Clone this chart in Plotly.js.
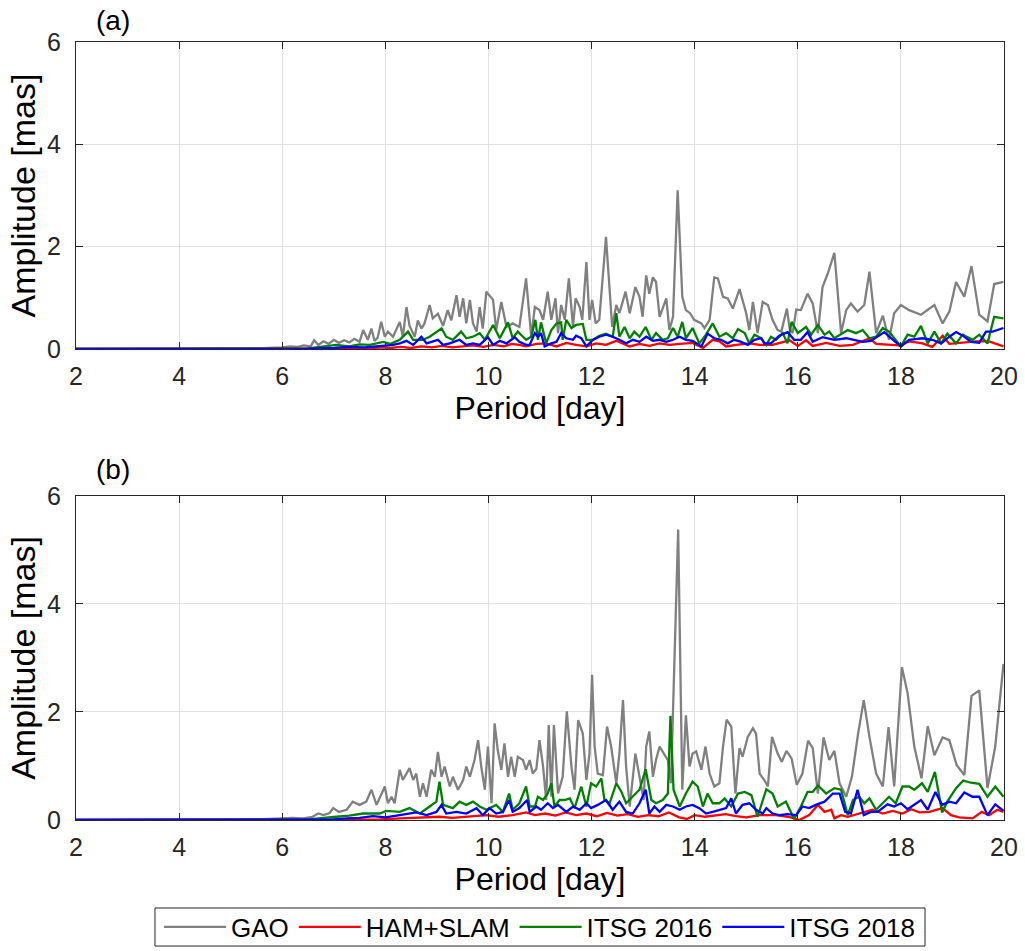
<!DOCTYPE html>
<html>
<head>
<meta charset="utf-8">
<script src="https://cdn.plot.ly/plotly-3.0.1.min.js"></script>
<style>html,body{margin:0;padding:0;background:#fff;}#chart{width:1025px;height:951px;}</style>
</head>
<body>
<div id="chart"></div>
<script>
// ---------- Panel (a) ----------
const gaoA_period = [2,3,4,5,5.5,6.0,6.15,6.3,6.42,6.55,6.62,6.7,6.8,6.9,7.0,7.1,7.2,7.3,7.4,7.5,7.57,7.66,7.73,7.79,7.85,7.92,7.99,8.05,8.15,8.28,8.34,8.41,8.47,8.57,8.63,8.70,8.76,8.86,8.92,9.02,9.12,9.21,9.28,9.38,9.44,9.51,9.57,9.64,9.70,9.77,9.83,9.89,9.96,10.09,10.15,10.25,10.35,10.47,10.60,10.73,10.83,10.90,10.99,11.06,11.15,11.22,11.30,11.35,11.41,11.48,11.56,11.64,11.69,11.77,11.82,11.90,11.96,12.01,12.08,12.15,12.28,12.40,12.48,12.54,12.66,12.74,12.85,12.93,12.99,13.06,13.12,13.19,13.25,13.32,13.45,13.51,13.58,13.67,13.76,13.83,13.91,13.99,14.13,14.19,14.29,14.38,14.45,14.55,14.64,14.74,14.87,15.00,15.06,15.13,15.22,15.32,15.42,15.51,15.61,15.68,15.79,15.84,15.90,15.97,16.06,16.19,16.29,16.39,16.48,16.58,16.71,16.84,16.94,17.03,17.16,17.29,17.39,17.52,17.65,17.77,17.87,18.00,18.16,18.39,18.65,18.81,18.94,19.07,19.23,19.37,19.52,19.68,19.81,19.99];
const gaoA_amp = [0,0,0,0.005,0.01,0.03,0.05,0.04,0.07,0.05,0.17,0.08,0.15,0.1,0.18,0.12,0.17,0.13,0.2,0.14,0.37,0.18,0.40,0.16,0.22,0.53,0.24,0.34,0.24,0.53,0.24,0.82,0.45,0.24,0.56,0.40,0.50,0.86,0.60,0.69,0.45,0.76,0.56,1.05,0.63,0.99,0.50,0.96,0.50,0.34,0.82,0.40,1.12,0.96,0.37,0.92,0.43,0.50,0.43,1.38,0.24,0.82,0.76,0.57,1.12,0.57,0.99,0.31,0.86,0.57,1.38,0.43,0.99,0.82,0.57,1.70,0.57,0.96,0.50,0.57,2.19,0.43,0.86,0.70,1.12,0.70,1.21,1.02,0.63,1.44,1.08,1.40,1.31,0.63,0.99,0.37,0.63,3.10,1.02,0.76,0.70,0.57,0.50,0.41,0.57,1.40,1.38,1.02,0.99,0.79,1.17,0.70,0.37,0.92,0.31,0.92,0.86,0.57,0.37,0.34,0.79,0.41,0.31,0.77,0.76,1.08,0.89,0.31,1.21,1.47,1.88,0.31,0.76,0.89,0.73,0.86,1.51,0.31,0.65,0.18,0.70,0.86,0.76,0.67,0.86,0.50,0.73,1.31,1.02,1.62,0.67,0.54,1.27,1.31];

const hamA_period = [2,6,6.5,7.0,7.3,7.6,7.9,8.1,8.3,8.5,8.7,8.9,9.1,9.3,9.5,9.7,9.9,10.1,10.3,10.45,10.60,10.73,10.93,11.12,11.32,11.51,11.70,11.90,12.09,12.28,12.48,12.61,12.74,12.93,13.12,13.32,13.51,13.71,13.96,14.16,14.35,14.48,14.61,14.80,15.06,15.26,15.51,15.84,16.00,16.16,16.29,16.55,16.81,17.07,17.39,17.52,17.71,17.97,18.16,18.42,18.61,18.81,18.94,19.20,19.46,19.71,19.99];
const hamA_amp = [0,0,0.005,0.01,0.02,0.01,0.03,0.02,0.04,0.02,0.05,0.03,0.06,0.03,0.05,0.07,0.04,0.08,0.05,0.10,0.08,0.05,0.10,0.11,0.05,0.12,0.08,0.05,0.11,0.08,0.16,0.11,0.05,0.10,0.06,0.11,0.08,0.10,0.12,0.02,0.18,0.15,0.05,0.08,0.11,0.08,0.08,0.17,0.06,0.17,0.06,0.12,0.06,0.08,0.21,0.10,0.09,0.07,0.15,0.11,0.04,0.26,0.10,0.12,0.15,0.15,0.05];

const itsg16A_period = [2,6,6.5,7.05,7.3,7.5,7.70,7.96,8.1,8.28,8.44,8.54,8.73,8.86,9.09,9.18,9.31,9.47,9.57,9.70,9.83,9.93,10.09,10.22,10.38,10.47,10.57,10.65,10.73,10.83,10.91,10.96,11.02,11.12,11.22,11.32,11.41,11.44,11.51,11.61,11.70,11.83,11.90,12.03,12.15,12.28,12.41,12.48,12.54,12.64,12.74,12.83,12.93,13.05,13.16,13.25,13.38,13.48,13.58,13.67,13.76,13.83,13.96,14.09,14.22,14.35,14.48,14.61,14.74,14.84,14.97,15.06,15.16,15.29,15.39,15.48,15.58,15.71,15.80,15.88,16.00,16.16,16.26,16.39,16.52,16.61,16.71,16.97,17.13,17.26,17.39,17.52,17.65,17.77,17.90,18.00,18.13,18.26,18.39,18.52,18.65,18.78,18.90,19.07,19.20,19.39,19.52,19.68,19.81,19.99];
const itsg16A_amp = [0,0,0.01,0.08,0.05,0.09,0.08,0.14,0.10,0.18,0.34,0.18,0.18,0.24,0.40,0.24,0.18,0.34,0.21,0.24,0.31,0.18,0.47,0.21,0.52,0.21,0.34,0.26,0.18,0.24,0.57,0.18,0.52,0.11,0.37,0.50,0.52,0.18,0.57,0.41,0.47,0.49,0.18,0.18,0.26,0.30,0.24,0.70,0.24,0.43,0.21,0.34,0.24,0.43,0.18,0.31,0.18,0.21,0.41,0.24,0.53,0.21,0.41,0.11,0.28,0.50,0.24,0.31,0.21,0.39,0.31,0.11,0.28,0.21,0.08,0.24,0.18,0.31,0.11,0.53,0.31,0.43,0.28,0.47,0.28,0.34,0.21,0.37,0.31,0.37,0.21,0.24,0.41,0.34,0.18,0.05,0.28,0.24,0.45,0.11,0.34,0.11,0.30,0.11,0.28,0.18,0.28,0.11,0.63,0.60];

const itsg18A_period = [2,6,6.5,7.0,7.25,7.6,7.89,8.15,8.28,8.41,8.54,8.70,8.80,8.92,9.02,9.12,9.25,9.44,9.57,9.70,9.83,9.99,10.09,10.22,10.35,10.51,10.60,10.73,10.80,10.90,10.96,11.02,11.09,11.22,11.32,11.41,11.51,11.64,11.70,11.80,11.90,12.03,12.15,12.28,12.41,12.54,12.67,12.80,12.93,13.06,13.19,13.32,13.45,13.58,13.71,13.83,13.96,14.13,14.25,14.38,14.51,14.64,14.77,14.90,15.03,15.16,15.29,15.35,15.48,15.64,15.80,15.93,16.06,16.19,16.29,16.48,16.71,16.94,17.10,17.26,17.42,17.55,17.68,17.81,18.00,18.16,18.42,18.61,18.78,18.94,19.07,19.20,19.36,19.52,19.65,19.78,19.99];
const itsg18A_amp = [0,0,0.005,0.02,0.04,0.03,0.05,0.08,0.11,0.16,0.08,0.24,0.11,0.14,0.18,0.08,0.11,0.18,0.08,0.11,0.08,0.23,0.08,0.16,0.11,0.23,0.14,0.08,0.08,0.31,0.24,0.31,0.05,0.11,0.14,0.31,0.21,0.18,0.26,0.21,0.05,0.18,0.24,0.28,0.24,0.18,0.11,0.18,0.14,0.24,0.16,0.18,0.14,0.18,0.24,0.18,0.16,0.05,0.30,0.21,0.18,0.11,0.18,0.14,0.08,0.18,0.21,0.11,0.11,0.26,0.33,0.18,0.18,0.33,0.14,0.23,0.18,0.21,0.18,0.14,0.16,0.24,0.33,0.21,0.05,0.18,0.21,0.18,0.11,0.24,0.33,0.26,0.14,0.12,0.34,0.34,0.41];

// ---------- Panel (b) ----------
const gaoB_period = [2,3,4,5,5.5,6.0,6.2,6.4,6.59,6.7,6.8,6.92,6.99,7.1,7.25,7.37,7.50,7.63,7.73,7.83,7.92,7.99,8.05,8.12,8.18,8.28,8.34,8.41,8.47,8.54,8.60,8.67,8.73,8.80,8.89,8.96,9.02,9.09,9.15,9.25,9.31,9.41,9.51,9.57,9.64,9.73,9.80,9.86,9.93,9.99,10.06,10.12,10.18,10.25,10.31,10.38,10.44,10.51,10.57,10.67,10.73,10.80,10.86,10.93,10.99,11.06,11.12,11.17,11.22,11.27,11.35,11.44,11.52,11.61,11.67,11.74,11.83,11.90,11.96,12.01,12.06,12.12,12.22,12.30,12.38,12.48,12.54,12.61,12.67,12.74,12.85,12.93,13.01,13.06,13.12,13.19,13.25,13.32,13.41,13.48,13.54,13.68,13.76,13.83,13.90,13.96,14.03,14.13,14.21,14.29,14.38,14.48,14.55,14.62,14.71,14.79,14.87,14.93,15.03,15.13,15.19,15.26,15.35,15.42,15.50,15.61,15.69,15.78,15.88,15.98,16.09,16.20,16.29,16.39,16.50,16.61,16.71,16.81,16.94,17.05,17.17,17.28,17.39,17.52,17.65,17.76,17.87,18.02,18.13,18.26,18.40,18.52,18.65,18.81,18.94,19.08,19.23,19.37,19.52,19.68,19.83,19.99];
const gaoB_amp = [0,0,0,0.005,0.01,0.03,0.04,0.03,0.06,0.12,0.09,0.13,0.22,0.15,0.19,0.34,0.28,0.34,0.56,0.28,0.49,0.62,0.31,0.43,0.31,0.93,0.74,0.86,0.96,0.74,0.86,0.43,0.68,0.43,0.93,0.80,1.26,0.80,0.99,0.62,0.80,0.56,0.74,0.99,0.80,1.11,1.48,0.99,0.56,1.36,0.31,1.79,1.30,0.93,1.42,0.80,1.17,0.80,1.17,1.11,0.93,1.11,0.86,0.95,1.48,0.99,0.37,1.76,0.43,1.76,0.49,0.80,2.01,0.99,0.56,1.85,1.60,0.74,1.23,2.69,1.36,0.86,0.83,1.73,1.36,0.68,1.23,2.22,0.99,0.25,1.23,0.80,0.37,1.36,1.64,0.80,1.11,1.36,1.23,1.11,0.68,5.38,0.56,1.94,0.99,1.23,1.27,0.93,1.36,0.86,0.62,0.68,1.36,1.86,1.73,0.49,1.33,1.17,1.54,1.70,1.60,0.86,0.74,0.62,1.54,1.23,1.08,1.28,1.14,0.65,0.86,1.47,1.33,0.49,1.53,1.11,1.28,0.68,0.43,0.80,1.60,2.22,1.54,0.86,0.62,1.72,0.62,2.83,2.35,1.36,0.77,1.74,1.20,1.53,1.48,1.02,0.83,2.30,2.40,0.59,1.36,2.89];

const hamB_period = [2,6,7.0,7.5,7.89,8.3,8.67,9.05,9.3,9.57,9.96,10.2,10.47,10.73,10.9,11.1,11.3,11.5,11.7,11.9,12.1,12.3,12.5,12.7,12.9,13.1,13.3,13.5,13.7,13.85,14.0,14.2,14.4,14.6,14.8,15.0,15.26,15.58,15.87,16.03,16.22,16.39,16.52,16.65,16.71,16.84,16.97,17.19,17.45,17.65,17.84,18.03,18.20,18.36,18.55,18.81,18.97,19.13,19.39,19.57,19.71,19.87,19.99];
const hamB_amp = [0,0,0.005,0.01,0.01,0.03,0.05,0.06,0.04,0.06,0.09,0.06,0.09,0.14,0.09,0.12,0.08,0.14,0.09,0.12,0.07,0.13,0.08,0.11,0.06,0.09,0.07,0.14,0.05,0.02,0.09,0.06,0.08,0.11,0.07,0.05,0.09,0.09,0.05,0.0,0.09,0.28,0.15,0.19,0.03,0.09,0.06,0.12,0.19,0.12,0.17,0.12,0.20,0.14,0.15,0.22,0.09,0.05,0.03,0.15,0.09,0.19,0.15];

const itsg16B_period = [2,6,6.5,7.05,7.3,7.57,7.89,8.02,8.28,8.47,8.67,8.86,8.99,9.05,9.12,9.31,9.44,9.57,9.70,9.83,9.96,10.15,10.28,10.40,10.47,10.60,10.73,10.80,10.90,10.96,11.06,11.15,11.22,11.28,11.38,11.48,11.58,11.67,11.80,11.90,11.99,12.09,12.19,12.25,12.35,12.48,12.58,12.67,12.80,12.93,13.05,13.16,13.25,13.38,13.48,13.53,13.59,13.71,13.83,13.96,14.06,14.16,14.25,14.35,14.48,14.58,14.71,14.84,14.97,15.10,15.22,15.39,15.51,15.61,15.77,15.87,15.93,16.06,16.19,16.29,16.39,16.55,16.71,16.84,16.97,17.07,17.19,17.29,17.39,17.52,17.65,17.77,17.90,18.03,18.16,18.26,18.41,18.52,18.66,18.80,18.90,19.07,19.21,19.36,19.52,19.68,19.83,19.99];
const itsg16B_amp = [0,0,0.01,0.06,0.08,0.12,0.12,0.17,0.15,0.22,0.12,0.25,0.34,0.71,0.28,0.22,0.34,0.28,0.34,0.25,0.19,0.28,0.15,0.49,0.19,0.31,0.62,0.25,0.25,0.43,0.37,0.49,0.68,0.25,0.37,0.37,0.40,0.22,0.62,0.25,0.68,0.62,0.77,0.37,0.31,0.68,0.52,0.31,0.43,0.56,0.94,0.37,0.31,0.37,0.49,1.93,0.56,0.25,0.49,0.71,0.62,0.25,0.49,0.31,0.31,0.40,0.25,0.49,0.52,0.46,0.06,0.57,0.49,0.25,0.34,0.12,0.02,0.25,0.52,0.52,0.64,0.49,0.59,0.56,0.09,0.37,0.43,0.31,0.40,0.19,0.31,0.43,0.31,0.62,0.62,0.56,0.68,0.52,0.89,0.14,0.34,0.59,0.73,0.69,0.67,0.43,0.62,0.43];

const itsg18B_period = [2,6,6.5,7.0,7.25,7.5,7.76,8.0,8.28,8.60,8.80,8.99,9.09,9.18,9.38,9.57,9.77,9.89,10.02,10.15,10.28,10.40,10.47,10.60,10.75,10.80,10.93,11.02,11.15,11.25,11.35,11.51,11.64,11.77,11.90,11.99,12.12,12.28,12.41,12.54,12.67,12.80,12.93,13.05,13.12,13.22,13.32,13.45,13.58,13.71,13.83,13.96,14.09,14.22,14.35,14.48,14.61,14.71,14.80,14.93,15.06,15.19,15.32,15.39,15.51,15.64,15.80,15.97,16.09,16.22,16.35,16.52,16.68,16.81,16.92,17.03,17.16,17.28,17.42,17.55,17.74,17.87,18.00,18.13,18.39,18.52,18.67,18.80,18.94,19.07,19.23,19.39,19.52,19.68,19.83,19.99];
const itsg18B_amp = [0,0,0.005,0.01,0.03,0.04,0.07,0.05,0.09,0.14,0.09,0.15,0.28,0.12,0.15,0.12,0.22,0.09,0.22,0.12,0.15,0.37,0.15,0.22,0.37,0.15,0.25,0.19,0.31,0.22,0.28,0.15,0.25,0.19,0.31,0.22,0.28,0.37,0.19,0.34,0.15,0.12,0.31,0.56,0.12,0.25,0.15,0.28,0.25,0.19,0.25,0.28,0.22,0.12,0.15,0.19,0.22,0.40,0.12,0.28,0.31,0.19,0.12,0.22,0.12,0.09,0.11,0.09,0.25,0.22,0.28,0.34,0.49,0.49,0.15,0.12,0.56,0.09,0.15,0.15,0.29,0.25,0.31,0.20,0.37,0.19,0.52,0.28,0.34,0.31,0.51,0.43,0.43,0.09,0.29,0.17];

const seriesNames = ["GAO", "HAM+SLAM", "ITSG 2016", "ITSG 2018"];
const seriesColors = ["#808080", "#ff0000", "#008000", "#0000ff"];
const panelLabels = ["(a)", "(b)"];
const xTitle = "Period [day]";
const yTitle = "Amplitude [mas]";

const panelA = [[gaoA_period, gaoA_amp],[hamA_period, hamA_amp],[itsg16A_period, itsg16A_amp],[itsg18A_period, itsg18A_amp]];
const panelB = [[gaoB_period, gaoB_amp],[hamB_period, hamB_amp],[itsg16B_period, itsg16B_amp],[itsg18B_period, itsg18B_amp]];

const FONT = 'Liberation Sans, Arial, sans-serif';
const traces = [];
panelA.forEach((s, i) => traces.push({
  x: s[0], y: s[1], type: 'scatter', mode: 'lines', name: seriesNames[i],
  line: {color: seriesColors[i], width: 2.3}, xaxis: 'x', yaxis: 'y', showlegend: true, legendgroup: 'g' + i
}));
panelB.forEach((s, i) => traces.push({
  x: s[0], y: s[1], type: 'scatter', mode: 'lines', name: seriesNames[i],
  line: {color: seriesColors[i], width: 2.3}, xaxis: 'x2', yaxis: 'y2', showlegend: false, legendgroup: 'g' + i
}));

const axisCommon = {
  showline: true, linecolor: '#262626', linewidth: 1, mirror: 'ticks',
  ticks: 'inside', ticklen: 7, tickwidth: 1, tickcolor: '#262626',
  showgrid: true, gridcolor: '#e1e1e1', gridwidth: 1, zeroline: false, automargin: false,
  tickfont: {family: FONT, size: 25, color: '#262626'}
};
const xCommon = Object.assign({}, axisCommon, {
  range: [2, 20], tickvals: [2,4,6,8,10,12,14,16,18,20], ticklabelstandoff: 5,
  title: {text: xTitle, font: {family: FONT, size: 32, color: '#000'}, standoff: 0}
});
const yCommon = Object.assign({}, axisCommon, {
  range: [0, 6], tickvals: [0,2,4,6], ticklabelstandoff: 9,
  title: {text: yTitle, font: {family: FONT, size: 34, color: '#000'}, standoff: 1}
});

const layout = {
  width: 1025, height: 951,
  margin: {l: 76, r: 21, t: 42, b: 131, autoexpand: false},
  paper_bgcolor: '#ffffff', plot_bgcolor: '#ffffff',
  font: {family: FONT, color: '#000'},
  xaxis: Object.assign({}, xCommon, {domain: [0, 1], anchor: 'y'}),
  yaxis: Object.assign({}, yCommon, {domain: [0.6054, 1], anchor: 'x'}),
  xaxis2: Object.assign({}, xCommon, {domain: [0, 1], anchor: 'y2'}),
  yaxis2: Object.assign({}, yCommon, {domain: [0, 0.4165], anchor: 'x2'}),
  showlegend: true,
  legend: {
    orientation: 'h', x: 0.5, xanchor: 'center', y: -0.1375, yanchor: 'middle',
    borderwidth: 0, bgcolor: 'rgba(0,0,0,0)',
    font: {family: FONT, size: 26, color: '#000'},
    itemwidth: 62, traceorder: 'normal'
  },
  shapes: [
    {type: 'rect', xref: 'paper', yref: 'paper', x0: 0.0851, x1: 0.9149, y0: -0.162, y1: -0.1131,
     line: {color: '#262626', width: 1}, fillcolor: 'rgba(0,0,0,0)', layer: 'below'}
  ],
  annotations: [
    {text: panelLabels[0], xref: 'paper', yref: 'paper', x: 0.04, y: 1.028, xanchor: 'center', yanchor: 'middle', showarrow: false,
     font: {family: FONT, size: 28, color: '#000'}},
    {text: panelLabels[1], xref: 'paper', yref: 'paper', x: 0.04, y: 0.45, xanchor: 'center', yanchor: 'middle', showarrow: false,
     font: {family: FONT, size: 28, color: '#000'}}
  ]
};

Plotly.newPlot('chart', traces, layout, {displayModeBar: false, staticPlot: true});
</script>
</body>
</html>
